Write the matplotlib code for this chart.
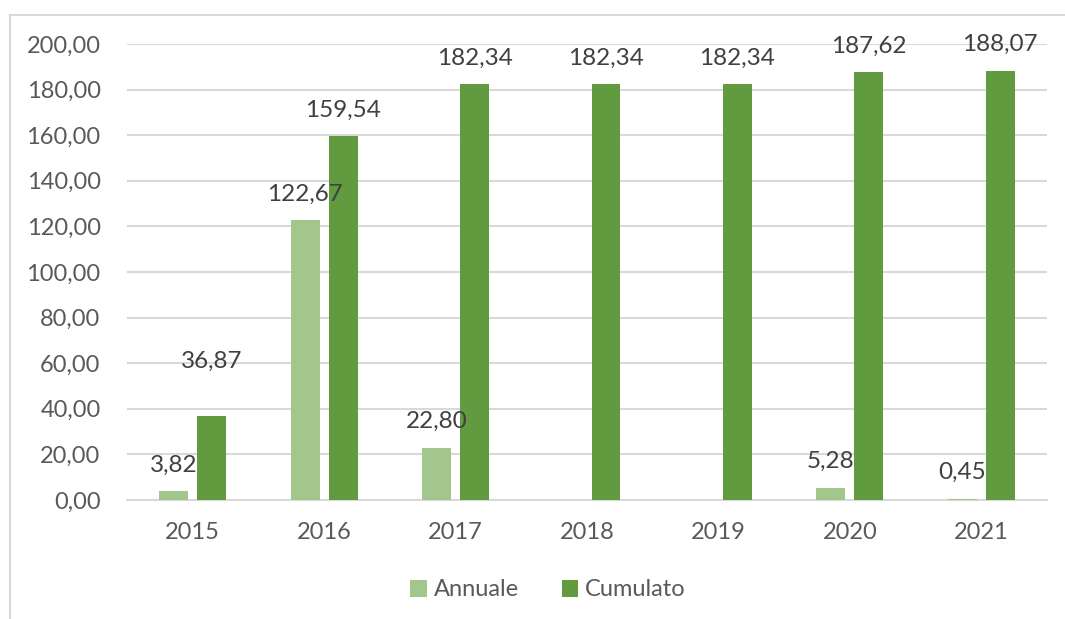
import numpy as np
import matplotlib.pyplot as plt
from matplotlib.lines import Line2D

# data
years = ['2015', '2016', '2017', '2018', '2019', '2020', '2021']
annuale = [3.82, 122.67, 22.80, 0, 0, 5.28, 0.45]
cumulato = [36.87, 159.54, 182.34, 182.34, 182.34, 187.62, 188.07]

light = '#A3C68C'
dark = '#619A3F'
grid_col = '#D9D9D9'
txt_col = '#595959'

plt.rcParams['font.family'] = ['Lato', 'DejaVu Sans']

fig = plt.figure(figsize=(10.65, 6.19), dpi=100)
ax = fig.add_axes([0.1192, 0.1922, 0.8639, 0.7367])

x = np.arange(len(years))
w = 0.22
off = 0.145
b1 = ax.bar(x - off, annuale, w, color=light, label='Annuale', zorder=3)
b2 = ax.bar(x + off, cumulato, w, color=dark, label='Cumulato', zorder=3)

def fmt(v):
    return f'{v:.2f}'.replace('.', ',')

# labels: skip zero values (no label shown for 2018/2019 annuale)
for xi, v in zip(x - off, annuale):
    if v == 0:
        continue
    ax.annotate(fmt(v), (xi, v), xytext=(0, 19), textcoords='offset points',
                ha='center', va='center', fontsize=17.5, color='#404040', zorder=4)
for i, (xi, v) in enumerate(zip(x + off, cumulato)):
    dy = 39 if i == 0 else 19  # first label pushed up to clear the 3,82 label
    ax.annotate(fmt(v), (xi, v), xytext=(0, dy), textcoords='offset points',
                ha='center', va='center', fontsize=17.5, color='#404040', zorder=4)

ax.set_xlim(-0.5, len(years) - 0.5)
ax.set_ylim(0, 200)
ax.set_yticks(np.arange(0, 201, 20))
ax.set_yticklabels([fmt(t) for t in np.arange(0, 201, 20)])
ax.set_xticks(x)
ax.set_xticklabels(years)
ax.tick_params(axis='both', length=0, labelsize=17, labelcolor=txt_col)
ax.tick_params(axis='y', pad=19)
ax.tick_params(axis='x', pad=16)
ax.grid(axis='y', color=grid_col, linewidth=1.5, zorder=0)
for s in ['top', 'right', 'left']:
    ax.spines[s].set_visible(False)
ax.spines['bottom'].set_color(grid_col)
ax.spines['bottom'].set_linewidth(1.5)

ax.legend(loc='center', bbox_to_anchor=(548 / 1065, 1 - 590 / 619),
          bbox_transform=fig.transFigure, ncol=2, frameon=False,
          fontsize=17, labelcolor=txt_col, handlelength=0.7, handleheight=0.7,
          handletextpad=0.3, columnspacing=1.8)

# outer chart frame (only left and top edges visible)
fx = 10 / 1065
fy = 1 - 15 / 619
fig.add_artist(Line2D([fx, fx], [0, fy], color=grid_col, linewidth=1.5, transform=fig.transFigure))
fig.add_artist(Line2D([fx, 1], [fy, fy], color=grid_col, linewidth=1.5, transform=fig.transFigure))

fig.savefig('out.png', dpi=100)
